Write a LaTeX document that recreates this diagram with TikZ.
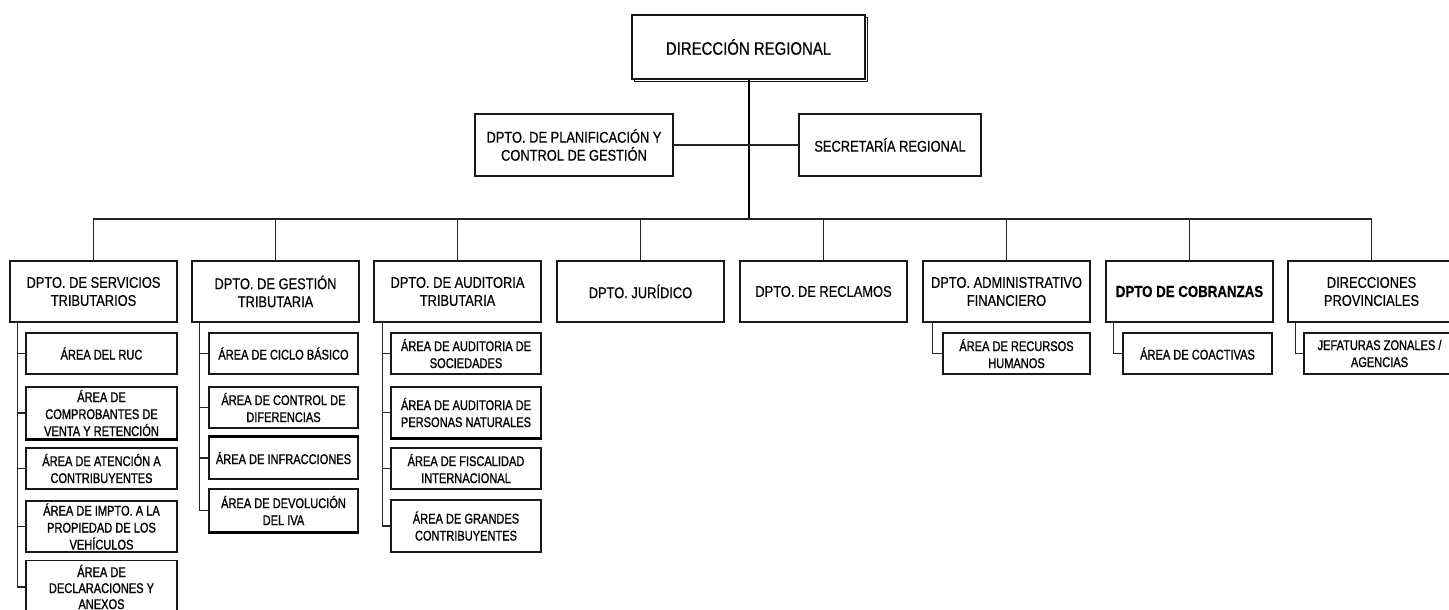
\documentclass[tikz,border=0pt]{standalone}
\usepackage{fontspec}
\setmainfont{Liberation Sans}
\newfontfamily\deptf{Liberation Sans}[FakeStretch=0.83,FakeBold=0.5]
\newfontfamily\subf{Liberation Sans}[FakeStretch=0.79,FakeBold=1.1]
\usetikzlibrary{shadows}
\begin{document}
\begin{tikzpicture}[x=1pt,y=-1pt,
  box/.style={draw=black!90, line width=1.4pt, fill=white, inner sep=0pt, align=center, text=black},
  dept/.style={box, minimum width=167, minimum height=61, font=\deptf\fontsize{15.5}{18}\selectfont},
  sub/.style={box, minimum height=41, font=\subf\fontsize{14}{17}\selectfont},
  link/.style={draw=black!85, line width=1.3pt},
  trunk/.style={draw=black, line width=2.6pt},
  heavy/.style={draw=black, line width=2.8pt}
]
\useasboundingbox (0,0) rectangle (1449,610);
\clip (0,0) rectangle (1449,610);
\fill[white] (0,0) rectangle (1449,610);

% top level
\node[box, minimum width=233, minimum height=64, font=\deptf\fontsize{18}{21}\selectfont,
  general shadow={draw=black!90, line width=1.4pt, fill=white, shadow xshift=2.5pt, shadow yshift=-2.5pt}]
  (dir) at (748.5,47) {DIRECCIÓN REGIONAL};
\node[box, minimum width=198, minimum height=62, font=\deptf\fontsize{15.5}{18}\selectfont]
  (plan) at (574,145) {DPTO. DE PLANIFICACIÓN Y\\CONTROL DE GESTIÓN};
\node[box, minimum width=182, minimum height=62, font=\deptf\fontsize{15.5}{18}\selectfont]
  (sec) at (890,145) {SECRETARÍA REGIONAL};

% departments
\node[dept] (d1) at (93.5,291.5) {DPTO. DE SERVICIOS\\TRIBUTARIOS};
\node[dept] (d2) at (275.5,291.5) {DPTO. DE GESTIÓN\\TRIBUTARIA};
\node[dept] (d3) at (457.5,291.5) {DPTO. DE AUDITORIA\\TRIBUTARIA};
\node[dept] (d4) at (640.5,291.5) {DPTO. JURÍDICO};
\node[dept] (d5) at (823.5,291.5) {DPTO. DE RECLAMOS};
\node[dept] (d6) at (1006.5,291.5) {DPTO. ADMINISTRATIVO\\FINANCIERO};
\node[dept, font=\deptf\bfseries\fontsize{16}{19}\selectfont] (d7) at (1189.5,291.5) {DPTO DE COBRANZAS};
\node[dept] (d8) at (1371.5,291.5) {DIRECCIONES\\PROVINCIALES};

% column 1 areas
\node[sub, minimum width=151] (s11) at (101.5,353.5) {ÁREA DEL RUC};
\node[sub, minimum width=151, minimum height=52] (s12) at (101.5,413) {ÁREA DE\\COMPROBANTES DE\\VENTA Y RETENCIÓN};
\node[sub, minimum width=151] (s13) at (101.5,468.5) {ÁREA DE ATENCIÓN A\\CONTRIBUYENTES};
\node[sub, minimum width=151, minimum height=51] (s14) at (101.5,526.5) {ÁREA DE IMPTO. A LA\\PROPIEDAD DE LOS\\VEHÍCULOS};
\node[sub, minimum width=151, minimum height=53, font=\subf\fontsize{14}{16}\selectfont] (s15) at (101.5,587) {ÁREA DE\\DECLARACIONES Y\\ANEXOS};

% column 2 areas
\node[sub, minimum width=149] (s21) at (283.5,353.5) {ÁREA DE CICLO BÁSICO};
\node[sub, minimum width=149] (s22) at (283.5,407.5) {ÁREA DE CONTROL DE\\DIFERENCIAS};
\node[sub, minimum width=149, minimum height=42] (s23) at (283.5,458) {ÁREA DE INFRACCIONES};
\node[sub, minimum width=149, minimum height=43] (s24) at (283.5,510.5) {ÁREA DE DEVOLUCIÓN\\DEL IVA};

% column 3 areas
\node[sub, minimum width=150] (s31) at (466,353.5) {ÁREA DE AUDITORIA DE\\SOCIEDADES};
\node[sub, minimum width=150, minimum height=51] (s32) at (466,412.5) {ÁREA DE AUDITORIA DE\\PERSONAS NATURALES};
\node[sub, minimum width=150] (s33) at (466,468.5) {ÁREA DE FISCALIDAD\\INTERNACIONAL};
\node[sub, minimum width=150, minimum height=52] (s34) at (466,526) {ÁREA DE GRANDES\\CONTRIBUYENTES};

% other areas
\node[sub, minimum width=147] (s61) at (1016.5,353.5) {ÁREA DE RECURSOS\\HUMANOS};
\node[sub, minimum width=149] (s71) at (1197.5,353.5) {ÁREA DE COACTIVAS};
\node[sub, minimum width=151] (s81) at (1379.5,353.5) {JEFATURAS ZONALES /\\AGENCIAS};

% heavier edges
\draw[heavy] (s12.south west) -- (s12.south east);
\draw[heavy] (s24.south west) -- (s24.south east);
\draw[heavy] (s32.south west) -- (s32.south east);
\draw[heavy] (s23.north west) -- (s23.north east);

% connectors top
\coordinate (bus) at (749,219);
\draw[trunk] (dir.south -| bus) -- (bus);
\draw[link] (plan.east) -- (sec.west);
\draw[link] (d1.north) -- (d1.north |- bus) -- (d8.north |- bus) -- (d8.north);
\foreach \d in {d2,d3,d4,d5,d6,d7}
  \draw[link] (\d.north) -- (\d.north |- bus);

% connectors to areas
\coordinate (t1) at ([xshift=8pt]d1.south west);
\coordinate (t2) at ([xshift=8pt]d2.south west);
\coordinate (t3) at ([xshift=9pt]d3.south west);
\coordinate (t6) at ([xshift=10pt]d6.south west);
\coordinate (t7) at ([xshift=8pt]d7.south west);
\coordinate (t8) at ([xshift=8pt]d8.south west);
\foreach \s in {s11,s12,s13,s14,s15} \draw[link] (t1) |- (\s.west);
\foreach \s in {s21,s22,s23,s24} \draw[link] (t2) |- (\s.west);
\foreach \s in {s31,s32,s33,s34} \draw[link] (t3) |- (\s.west);
\draw[link] (t6) |- (s61.west);
\draw[link] (t7) |- (s71.west);
\draw[link] (t8) |- (s81.west);
\end{tikzpicture}
\end{document}
